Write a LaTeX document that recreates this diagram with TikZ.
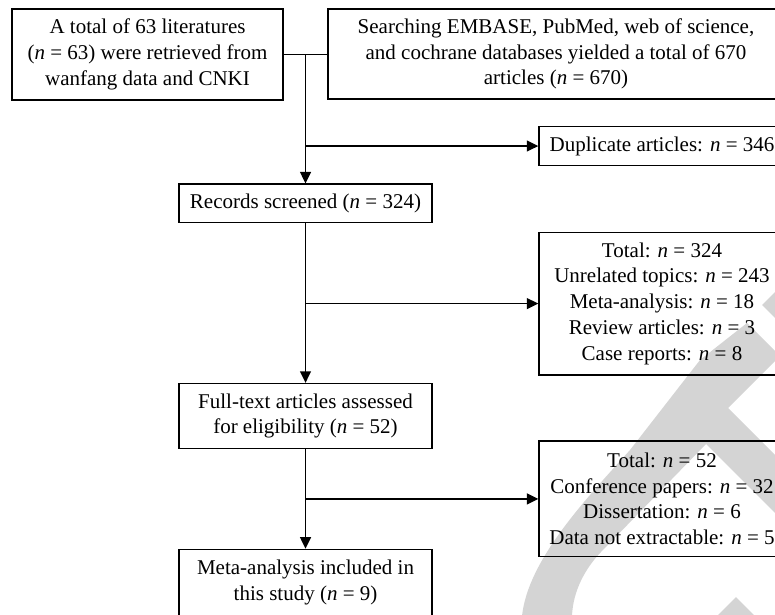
\documentclass[tikz,border=0pt]{standalone}
\usepackage{fontspec}
\setmainfont{Liberation Serif}
\usetikzlibrary{arrows.meta}
\newcommand{\nv}{\textit{n}}
\definecolor{wm}{RGB}{212,212,212}
\begin{document}
\begin{tikzpicture}[x=1pt,y=-1pt,
  box/.style={draw=black, line width=1.4pt, inner sep=0pt, align=center,
    font=\fontsize{21}{25.7}\selectfont},
  conn/.style={line width=1.4pt},
  arr/.style={conn, -{Triangle[length=11.5pt,width=11pt]}}
]
\useasboundingbox (0,0) rectangle (775,614);
\clip (0,0) rectangle (775,614);
% watermark
\fill[wm] (747,323) -- (780,356) -- (728,408) -- (780,460) -- (780,518) -- (706,444)
  -- (600,553) .. controls (586,568) and (573,590) .. (572,616) -- (522,616)
  .. controls (528,560) and (585,500) .. (630,450) -- (700,360) -- cycle;
\fill[wm] (762,305) -- (780,287) -- (780,323) -- cycle;
\fill[wm] (736,597) -- (717,616) -- (755,616) -- cycle;
% boxes
\node[box, minimum width=271pt, minimum height=91pt] (b1) at (147.5,54.5)
  {A total of 63 literatures\\(\nv{} = 63) were retrieved from\\wanfang data and CNKI};
\node[box, minimum width=456pt, minimum height=90pt] (b2) at (556,54)
  {Searching EMBASE, PubMed, web of science,\\and cochrane databases yielded a total of 670\\articles (\nv{} = 670)};
\node[box, minimum width=246pt, minimum height=38.6pt] (dup) at (662,146)
  {Duplicate articles: \nv{} = 346};
\node[box, minimum width=253pt, minimum height=38.7pt] (rec) at (305.5,203.4)
  {Records screened (\nv{} = 324)};
\node[box, minimum width=246pt, minimum height=142.7pt] (t324) at (662,303.6)
  {Total: \nv{} = 324\\Unrelated topics: \nv{} = 243\\Meta-analysis: \nv{} = 18\\Review articles: \nv{} = 3\\Case reports: \nv{} = 8};
\node[box, minimum width=253pt, minimum height=65pt] (ft) at (305.5,416)
  {Full-text articles assessed\\for eligibility (\nv{} = 52)};
\node[box, minimum width=246pt, minimum height=115.7pt] (t52) at (662,498.9)
  {Total: \nv{} = 52\\Conference papers: \nv{} = 32\\Dissertation: \nv{} = 6\\Data not extractable: \nv{} = 5};
\node[box, minimum width=253pt, minimum height=66.6pt] (ma) at (305.5,582.6)
  {Meta-analysis included in\\this study (\nv{} = 9)};
% connectors
\coordinate (j0) at (rec.north |- b1.east);
\draw[conn] (b1.east) -- (b2.west |- b1.east);
\draw[arr] (j0) -- (rec.north);
\draw[arr] (j0 |- dup.west) -- (dup.west);
\draw[arr] (rec.south) -- (ft.north);
\draw[arr] (rec.south |- t324.west) -- (t324.west);
\draw[arr] (ft.south) -- (ma.north);
\draw[arr] (ft.south |- t52.west) -- (t52.west);
\end{tikzpicture}
\end{document}
